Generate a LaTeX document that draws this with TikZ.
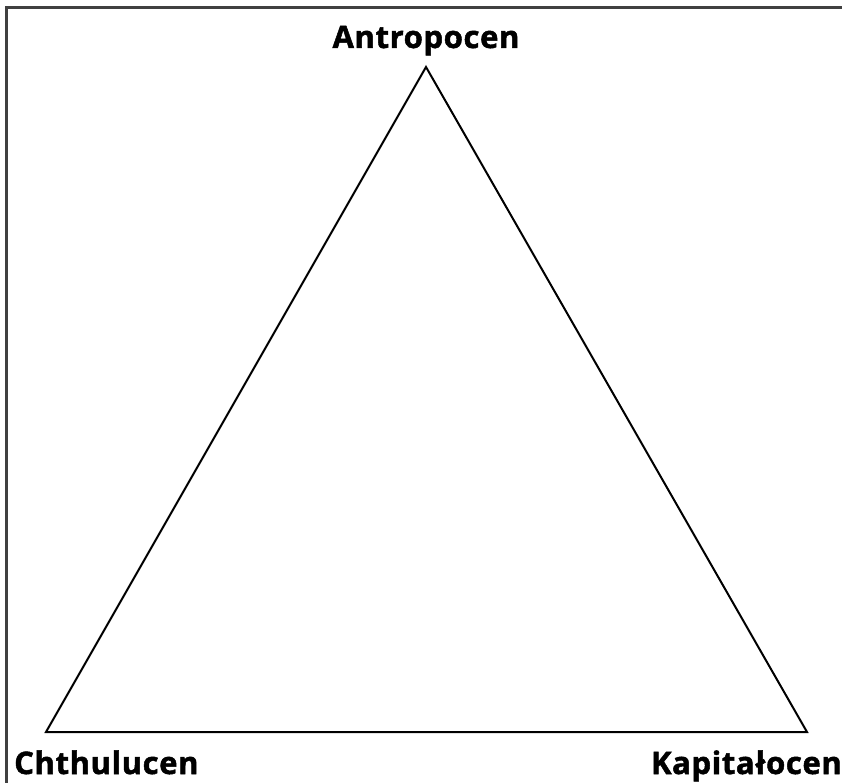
\documentclass[tikz,border=0pt]{standalone}
\usepackage{fontspec}
\setmainfont{Open Sans}[BoldFeatures={FakeBold=1.6, LetterSpace=2}]
\begin{document}
\begin{tikzpicture}[x=1pt,y=-1pt,
  lbl/.style={font=\fontsize{31}{36}\selectfont\bfseries, inner sep=0pt, anchor=base},
  tri/.style={draw=black, line width=2pt, line join=miter}]
\useasboundingbox (0,0) rectangle (842,783);
\draw[line width=2.2pt, draw=black!75] (6.5,783) -- (6.5,7.5) -- (842,7.5);
\coordinate (A) at (426,67);
\coordinate (C) at (46,732);
\coordinate (K) at (807,732);
\draw[tri] (A) -- (K) -- (C) -- cycle;
\node[lbl] (tA) at (426,48) {Antropocen};
\node[lbl, anchor=base west] (tC) at (14,774) {Chthulucen};
\node[lbl, anchor=base east] (tK) at (842,774) {Kapitałocen};
\end{tikzpicture}
\end{document}
